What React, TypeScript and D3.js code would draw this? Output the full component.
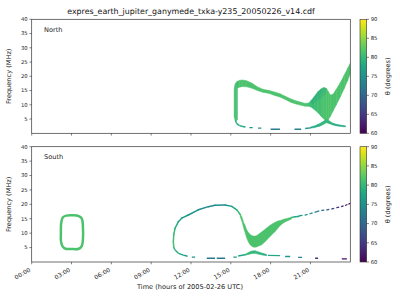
import React from "react";
import * as d3 from "d3";

const TITLE = "expres_earth_jupiter_ganymede_txka-y235_20050226_v14.cdf";
const hourTicks = [0, 3, 6, 9, 12, 15, 18, 21];
const hourLabels = ["00:00", "03:00", "06:00", "09:00", "12:00", "15:00", "18:00", "21:00"];
const freqTicks = [5, 10, 15, 20, 25, 30, 35, 40];
const thetaTicks = [60, 65, 70, 75, 80, 85, 90];

// ---------- North ----------
// left edge of the loop
const nEdgeT = [15.25, 15.33, 15.42, 15.5];
const nEdgeLo = [6.0, 4.6, 4.4, 4.8];
const nEdgeHi = [15.5, 17.2, 18.0, 18.3];
const nEdgeTheta = [81, 81, 81, 81];
// main upper band + fan
const nBandT = [15.45, 15.65, 15.9, 16.2, 16.6, 17.0, 17.4, 17.9, 18.3, 18.7, 19.1, 19.5, 19.9, 20.3, 20.6, 20.85, 21.05, 21.3, 21.55, 21.8, 22.0, 22.2, 22.35, 22.5, 22.7, 22.95, 23.25, 23.55, 23.8, 24.0];
const nBandLo = [15.8, 16.2, 16.4, 16.3, 15.8, 15.0, 14.4, 14.0, 13.3, 12.7, 11.9, 10.9, 10.3, 9.8, 9.5, 9.5, 9.2, 8.3, 7.3, 6.0, 5.0, 4.4, 4.8, 6.0, 7.8, 10.0, 12.8, 15.8, 18.5, 21.0];
const nBandHi = [18.0, 18.6, 18.7, 18.4, 17.6, 16.3, 15.5, 15.0, 14.5, 13.9, 13.0, 12.1, 11.4, 10.9, 10.5, 10.6, 11.5, 13.0, 14.6, 15.6, 16.1, 15.8, 14.6, 13.4, 13.7, 15.5, 17.8, 20.5, 22.8, 24.6];
const nBandTheta = [81.5, 81.5, 81.5, 81.5, 81.5, 81.5, 81.5, 81.5, 81.5, 81.5, 81.5, 81.5, 81.5, 81.5, 81.5, 81, 80.5, 80.5, 81, 81, 81.5, 81.5, 81.5, 81.5, 81.5, 81.5, 81.5, 81.5, 81.5, 81.5];
// teal upper-left part of the fan
const nFanT = [21.05, 21.3, 21.55, 21.8, 22.0, 22.2];
const nFanLo = [10.0, 10.6, 11.3, 12.2, 13.0, 14.0];
const nFanHi = [11.4, 12.9, 14.5, 15.5, 16.0, 15.6];
const nFanTheta = 77;
// lower branch (seg id groups a dash)
const nLowT = [15.33, 15.45, 15.65, 15.9, 16.1, 16.4, 16.65, 17.05, 17.3, 18.0, 18.7, 19.8, 20.3, 20.6, 21.0];
const nLowF = [4.6, 3.4, 2.7, 2.4, 2.2, 2.0, 2.0, 1.8, 1.8, 1.4, 1.4, 1.4, 1.4, 1.7, 1.9];
const nLowTheta = [80, 79, 78, 77, 77, 76, 76, 75, 75, 72.5, 72.5, 73, 73, 75, 76];
const nLowSeg = [0, 0, 0, 0, 0, 1, 1, 2, 2, 3, 3, 4, 4, 5, 5];
// lower hump
const nHumpT = [21.0, 21.3, 21.7, 22.0, 22.2, 22.4, 22.7, 23.0, 23.5, 23.65];
const nHumpLo = [1.8, 2.0, 2.5, 3.2, 3.7, 3.4, 2.9, 2.6, 2.3, 2.3];
const nHumpHi = [2.2, 2.6, 3.4, 4.3, 4.9, 4.4, 3.5, 3.1, 2.7, 2.6];
const nHumpTheta = [77, 78, 79, 80, 80, 80, 79, 78, 78, 78];

// ---------- South ----------
// ring near 03:00 (centre line)
const ringT = [2.2, 2.22, 2.35, 2.6, 3.1, 3.55, 3.78, 3.86, 3.86, 3.78, 3.55, 3.0, 2.55, 2.3, 2.2];
const ringF = [10.0, 13.5, 15.5, 16.1, 16.2, 15.9, 15.0, 12.0, 8.0, 5.6, 4.6, 4.5, 4.6, 5.6, 7.5];
const ringTheta = 81.5;
// thin upper arc of the loop
const sUpT = [10.71, 10.67, 10.7, 10.8, 11.05, 11.3, 11.8, 12.55, 13.31, 13.81, 14.57, 15.07, 15.45, 15.72];
const sUpF = [5.0, 7.0, 9.5, 11.7, 14.0, 15.2, 16.3, 18.1, 19.2, 19.7, 19.8, 19.3, 18.1, 16.4];
const sUpTheta = [81, 81, 80.5, 79.5, 78, 77, 76, 75, 74.5, 74.5, 75, 76.5, 79, 81];
// V-shaped band
const sVT = [15.7, 15.85, 15.95, 16.07, 16.2, 16.34, 16.45, 16.6, 16.75, 16.94, 17.13, 17.33, 17.58, 17.83, 18.07, 18.33, 18.58, 18.84, 19.09, 19.34, 19.6];
const sVLo = [15.6, 13.8, 12.0, 10.2, 8.2, 6.8, 6.0, 5.4, 5.1, 5.2, 5.6, 6.0, 7.0, 8.2, 9.4, 10.5, 11.9, 13.1, 13.9, 14.4, 15.0];
const sVHi = [16.6, 15.5, 14.0, 12.8, 11.2, 10.2, 9.6, 9.2, 9.0, 9.2, 9.8, 10.5, 11.4, 12.3, 13.1, 13.8, 14.3, 14.6, 15.0, 15.3, 15.6];
const sVTheta = 81.5;
// thin rising tail to the right
const sTailT = [19.59, 19.84, 20.09, 20.22, 20.6, 20.98, 21.48, 21.85, 22.23, 22.61, 22.98, 23.31, 23.61, 23.86, 24.0];
const sTailF = [15.5, 15.7, 15.8, 16.1, 16.3, 16.8, 17.5, 17.9, 18.1, 18.4, 18.9, 19.2, 19.6, 20.1, 20.3];
const sTailTheta = [79, 78.5, 78, 77, 76, 74.5, 72.5, 71, 69, 67, 65, 63, 62, 61, 60.5];
// lower branch
const sLowT = [10.71, 10.8, 11.05, 11.42, 11.74, 12.06, 12.31, 13.19, 13.81, 13.94, 14.57, 15.19, 15.45, 15.55, 16.07, 17.8, 18.71, 19.09, 19.47, 20.07, 20.37, 21.35, 21.57, 23.36, 23.74];
const sLowF = [5.0, 4.2, 3.0, 2.4, 2.0, 1.7, 1.7, 1.3, 1.3, 1.3, 1.3, 1.7, 1.7, 2.1, 2.5, 2.3, 2.2, 1.9, 1.9, 1.6, 1.6, 1.3, 1.3, 1.1, 1.1];
const sLowTheta = [80, 79, 78, 77, 76, 75, 75, 72, 72, 72, 72, 75.5, 75.5, 77.5, 78, 78, 78, 76, 76, 73.5, 73.5, 64, 64, 61, 61];
const sLowSeg = [0, 0, 0, 0, 0, 1, 1, 2, 2, 3, 3, 4, 4, 5, 5, 6, 6, 7, 7, 8, 8, 9, 9, 10, 10];
const sHumpT = [16.07, 16.3, 16.55, 16.83, 17.1, 17.4, 17.7];
const sHumpLo = [2.3, 2.6, 2.9, 3.0, 2.7, 2.4, 2.2];
const sHumpHi = [2.7, 3.2, 3.8, 3.9, 3.5, 3.0, 2.6];
const sHumpTheta = [80, 80, 80, 80, 80, 79, 78];

// ---------- layout ----------
const FONT = "DejaVu Sans, sans-serif";
const X0 = 31.7, X1 = 350.3;
const CB0 = 360, CBW = 6.7;
const AX = "#333";

const color = (th: number) => d3.interpolateViridis((th - 60) / 30);
const x = d3.scaleLinear().domain([0, 24]).range([X0, X1]);

type Y = d3.ScaleLinear<number, number>;

function Band({ t, lo, hi, theta, y, fill }: { t: number[]; lo: number[]; hi: number[]; theta: number[] | number; y: Y; fill?: string }) {
  const idx = d3.range(t.length);
  if (typeof theta === "number") {
    const area = d3.area<number>().x((i) => x(t[i])).y0((i) => y(lo[i])).y1((i) => y(hi[i])).curve(d3.curveMonotoneX);
    return <path d={area(idx) || ""} fill={fill || color(theta)} stroke={fill ? "none" : color(theta)} strokeWidth={0.4} />;
  }
  return (
    <g>
      {idx.slice(0, -1).map((i) => {
        const c = color((theta[i] + theta[i + 1]) / 2);
        const pts = [
          [x(t[i]), y(lo[i])],
          [x(t[i + 1]), y(lo[i + 1])],
          [x(t[i + 1]), y(hi[i + 1])],
          [x(t[i]), y(hi[i])],
        ];
        return <polygon key={i} points={pts.map((p) => p.join(",")).join(" ")} fill={c} stroke={c} strokeWidth={0.5} strokeLinejoin="round" />;
      })}
    </g>
  );
}

function Segs({ t, f, theta, seg, y, width, dash, cap = "butt" }: { t: number[]; f: number[]; theta: number[]; seg?: number[]; y: Y; width: number; dash?: string; cap?: "butt" | "round" }) {
  return (
    <g>
      {d3.range(t.length - 1).map((i) => {
        if (seg && seg[i] !== seg[i + 1]) return null;
        return (
          <line
            key={i}
            x1={x(t[i])}
            y1={y(f[i])}
            x2={x(t[i + 1])}
            y2={y(f[i + 1])}
            stroke={color((theta[i] + theta[i + 1]) / 2)}
            strokeWidth={width}
            strokeDasharray={dash}
            strokeLinecap={cap}
          />
        );
      })}
    </g>
  );
}

function Panel({ top, bottom, name, showLabels, children }: { top: number; bottom: number; name: string; showLabels: boolean; children: (y: Y) => React.ReactNode }) {
  const y = d3.scaleLinear().domain([0, 40]).range([bottom, top]);
  const cb = d3.scaleLinear().domain([60, 90]).range([bottom, top]);
  const gid = "vir" + name;
  const stops = d3.range(0, 1.0001, 0.05);
  return (
    <g>
      <defs>
        <linearGradient id={gid} x1="0" y1="1" x2="0" y2="0">
          {stops.map((s) => (
            <stop key={s} offset={s} stopColor={d3.interpolateViridis(s)} />
          ))}
        </linearGradient>
        <linearGradient id={"fan" + name} x1="0" y1="0" x2="1" y2="1">
          <stop offset="0" stopColor={color(77)} stopOpacity={0.7} />
          <stop offset="0.5" stopColor={color(77.5)} stopOpacity={0.35} />
          <stop offset="1" stopColor={color(79)} stopOpacity={0} />
        </linearGradient>
        <clipPath id={"clip" + name}>
          <rect x={X0} y={top} width={X1 - X0} height={bottom - top} />
        </clipPath>
      </defs>
      <g clipPath={`url(#clip${name})`}>{children(y)}</g>
      <rect x={X0} y={top} width={X1 - X0} height={bottom - top} fill="none" stroke={AX} strokeWidth={0.7} />
      {freqTicks.map((v) => (
        <g key={v}>
          <line x1={X0 - 2.3} x2={X0} y1={y(v)} y2={y(v)} stroke={AX} strokeWidth={0.6} />
          <text x={X0 - 4} y={y(v)} dy="0.35em" textAnchor="end" fontSize={5.3} fill="#222" fontFamily={FONT}>
            {v}
          </text>
        </g>
      ))}
      {hourTicks.map((h, i) => (
        <g key={h}>
          <line x1={x(h)} x2={x(h)} y1={bottom} y2={bottom + 2.3} stroke={AX} strokeWidth={0.6} />
          {showLabels && (
            <text
              transform={`translate(${x(h) - 0.6},${bottom + 9}) rotate(-30)`}
              textAnchor="end"
              fontSize={6}
              fill="#222"
              fontFamily={FONT}
            >
              {hourLabels[i]}
            </text>
          )}
        </g>
      ))}
      <text transform={`translate(10.5,${(top + bottom) / 2}) rotate(-90)`} textAnchor="middle" fontSize={6.6} fill="#222" fontFamily={FONT}>
        Frequency (MHz)
      </text>
      <text x={44} y={top + 12.5} fontSize={6.6} fill="#222" fontFamily={FONT}>
        {name}
      </text>
      <rect x={CB0} y={top} width={CBW} height={bottom - top} fill={`url(#${gid})`} stroke={AX} strokeWidth={0.6} />
      {thetaTicks.map((v) => (
        <g key={v}>
          <line x1={CB0 + CBW} x2={CB0 + CBW + 2.3} y1={cb(v)} y2={cb(v)} stroke={AX} strokeWidth={0.6} />
          <text x={CB0 + CBW + 4} y={cb(v)} dy="0.35em" fontSize={5.3} fill="#222" fontFamily={FONT}>
            {v}
          </text>
        </g>
      ))}
      <text transform={`translate(390,${(top + bottom) / 2}) rotate(-90)`} textAnchor="middle" fontSize={6.6} fill="#222" fontFamily={FONT}>
        θ (degrees)
      </text>
    </g>
  );
}

export default function App() {
  return (
    <svg width={400} height={300} style={{ position: "absolute", left: 0, top: 0, background: "#fff" }}>
      <rect width={400} height={300} fill="#fff" />
      <text x={191} y={13.5} textAnchor="middle" fontSize={7.9} fill="#111" fontFamily={FONT}>
        {TITLE}
      </text>
      <Panel top={19.3} bottom={133.3} name="North" showLabels={false}>
        {(y) => (
          <g>
            <Band t={nBandT} lo={nBandLo} hi={nBandHi} theta={nBandTheta} y={y} />
            <Band t={nFanT} lo={nFanLo} hi={nFanHi} theta={nFanTheta} y={y} fill="url(#fanNorth)" />
            <Band t={nEdgeT} lo={nEdgeLo} hi={nEdgeHi} theta={nEdgeTheta} y={y} />
            <Segs t={nLowT} f={nLowF} theta={nLowTheta} seg={nLowSeg} y={y} width={1.4} />
            <Band t={nHumpT} lo={nHumpLo} hi={nHumpHi} theta={nHumpTheta} y={y} />
          </g>
        )}
      </Panel>
      <Panel top={146.7} bottom={262} name="South" showLabels={true}>
        {(y) => (
          <g>
            <path
              d={d3.line<number>().x((i) => x(ringT[i])).y((i) => y(ringF[i])).curve(d3.curveCatmullRomClosed)(d3.range(ringT.length)) || ""}
              fill="none"
              stroke={color(ringTheta)}
              strokeWidth={2.5}
            />
            <Segs t={sUpT} f={sUpF} theta={sUpTheta} y={y} width={1.5} cap="round" />
            <Band t={sVT} lo={sVLo} hi={sVHi} theta={sVTheta} y={y} />
            <Segs t={sTailT.slice(0, 4)} f={sTailF.slice(0, 4)} theta={sTailTheta.slice(0, 4)} y={y} width={1.4} cap="round" />
            <Segs t={sTailT.slice(3)} f={sTailF.slice(3)} theta={sTailTheta.slice(3)} y={y} width={1.3} dash="2.5 2" />
            <Segs t={sLowT} f={sLowF} theta={sLowTheta} seg={sLowSeg} y={y} width={1.4} />
            <Band t={sHumpT} lo={sHumpLo} hi={sHumpHi} theta={sHumpTheta} y={y} />
          </g>
        )}
      </Panel>
      <text x={190} y={289} textAnchor="middle" fontSize={6.6} fill="#222" fontFamily={FONT}>
        Time (hours of 2005-02-26 UTC)
      </text>
    </svg>
  );
}
